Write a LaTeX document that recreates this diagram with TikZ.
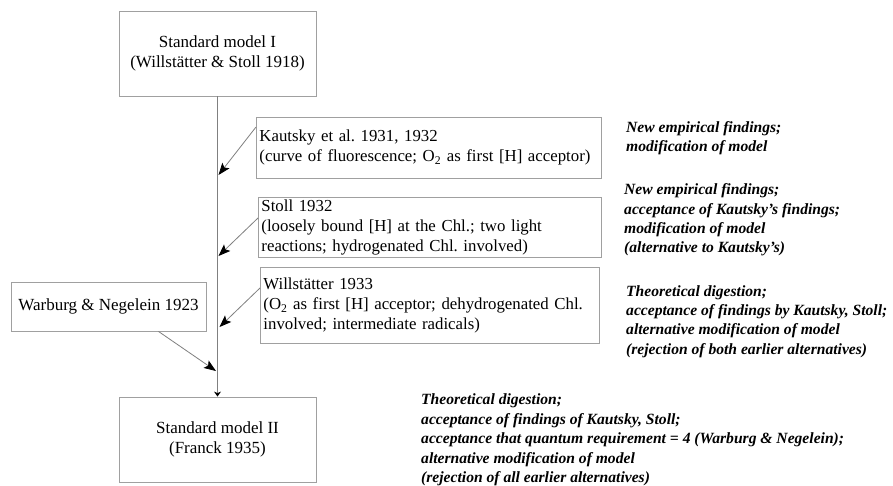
\documentclass[tikz,border=0pt]{standalone}
\usepackage{fontspec}
\setmainfont{Liberation Serif}
\usetikzlibrary{arrows.meta,calc}
\definecolor{boxgray}{HTML}{A0A0A0}
\definecolor{linegray}{HTML}{808080}
\frenchspacing
\hyphenpenalty=10000
\tikzset{
  modelbox/.style={draw=boxgray, line width=0.9pt, rectangle, align=center,
    font=\fontsize{17}{20}\selectfont, inner sep=0pt},
  findbox/.style={draw=boxgray, line width=0.9pt, rectangle, align=left,
    font=\fontsize{16.8}{20}\selectfont, inner xsep=3pt, inner ysep=0pt, anchor=north west},
  comment/.style={align=left, anchor=west, inner sep=0pt,
    font=\fontsize{15.6}{19.4}\selectfont\bfseries\itshape},
  conn/.style={draw=linegray, line width=0.8pt, -{Stealth[length=12pt,width=9pt,inset=2.5pt,fill=black,color=black]}},
}
\begin{document}
\begin{tikzpicture}[x=1pt,y=-1pt]
\useasboundingbox (0,0) rectangle (893,485);
\fill[white] (0,0) rectangle (893,485);

% main models
\node[modelbox, minimum width=197pt, minimum height=85pt] (sm1) at (217.5,53.5)
  {Standard model I\\(Willstätter \& Stoll 1918)};
\node[modelbox, minimum width=197pt, minimum height=85pt] (sm2) at (217.5,439.5)
  {Standard model II\\(Franck 1935)};

% findings boxes
\node[findbox, text width=339pt, minimum height=61pt] (kau) at (256,117)
  {Kautsky et al. 1931, 1932\\(curve of fluorescence; O\textsubscript{2} as first [H] acceptor)};
\node[findbox, text width=337pt, minimum height=60pt] (sto) at (258,197)
  {Stoll 1932\\(loosely bound [H] at the Chl.; two light\\reactions; hydrogenated Chl. involved)};
\node[findbox, text width=333pt, minimum height=76pt] (wil) at (260,267)
  {Willstätter 1933\\(O\textsubscript{2} as first [H] acceptor; dehydrogenated Chl.\\involved; intermediate radicals)};
\node[modelbox, minimum width=195pt, minimum height=49pt] (war) at (108.5,306.5)
  {Warburg \& Negelein 1923};

% comments
\node[comment] (c1) at (626,138) {New empirical findings;\\modification of model};
\node[comment] (c2) at (624,220) {New empirical findings;\\acceptance of Kautsky’s findings;\\modification of model\\(alternative to Kautsky’s)};
\node[comment] (c3) at (626,321.5) {Theoretical digestion;\\acceptance of findings by Kautsky, Stoll;\\alternative modification of model\\(rejection of both earlier alternatives)};
\node[comment] (c4) at (421,440) {Theoretical digestion;\\acceptance of findings of Kautsky, Stoll;\\acceptance that quantum requirement = 4 (Warburg \& Negelein);\\alternative modification of model\\(rejection of all earlier alternatives)};

% junction points on the main line
\coordinate (jk) at (218.5,175);
\coordinate (js) at (218.5,256);
\coordinate (jw) at (219.5,327);
\coordinate (jg) at (216,371);

% main line
\draw[draw=linegray, line width=0.9pt, -{Stealth[length=5pt,width=7pt,fill=black,color=black]}] (sm1.south) -- (sm2.north);

% connectors
\draw[conn] ($(kau.north west)+(0,10)$) -- (jk);
\draw[conn] ($(sto.north west)+(0,21)$) -- (js);
\draw[conn] ($(wil.north west)+(0,21)$) -- (jw);
\draw[conn] ($(war.south)+(50,0)$) -- (jg);
\end{tikzpicture}
\end{document}
